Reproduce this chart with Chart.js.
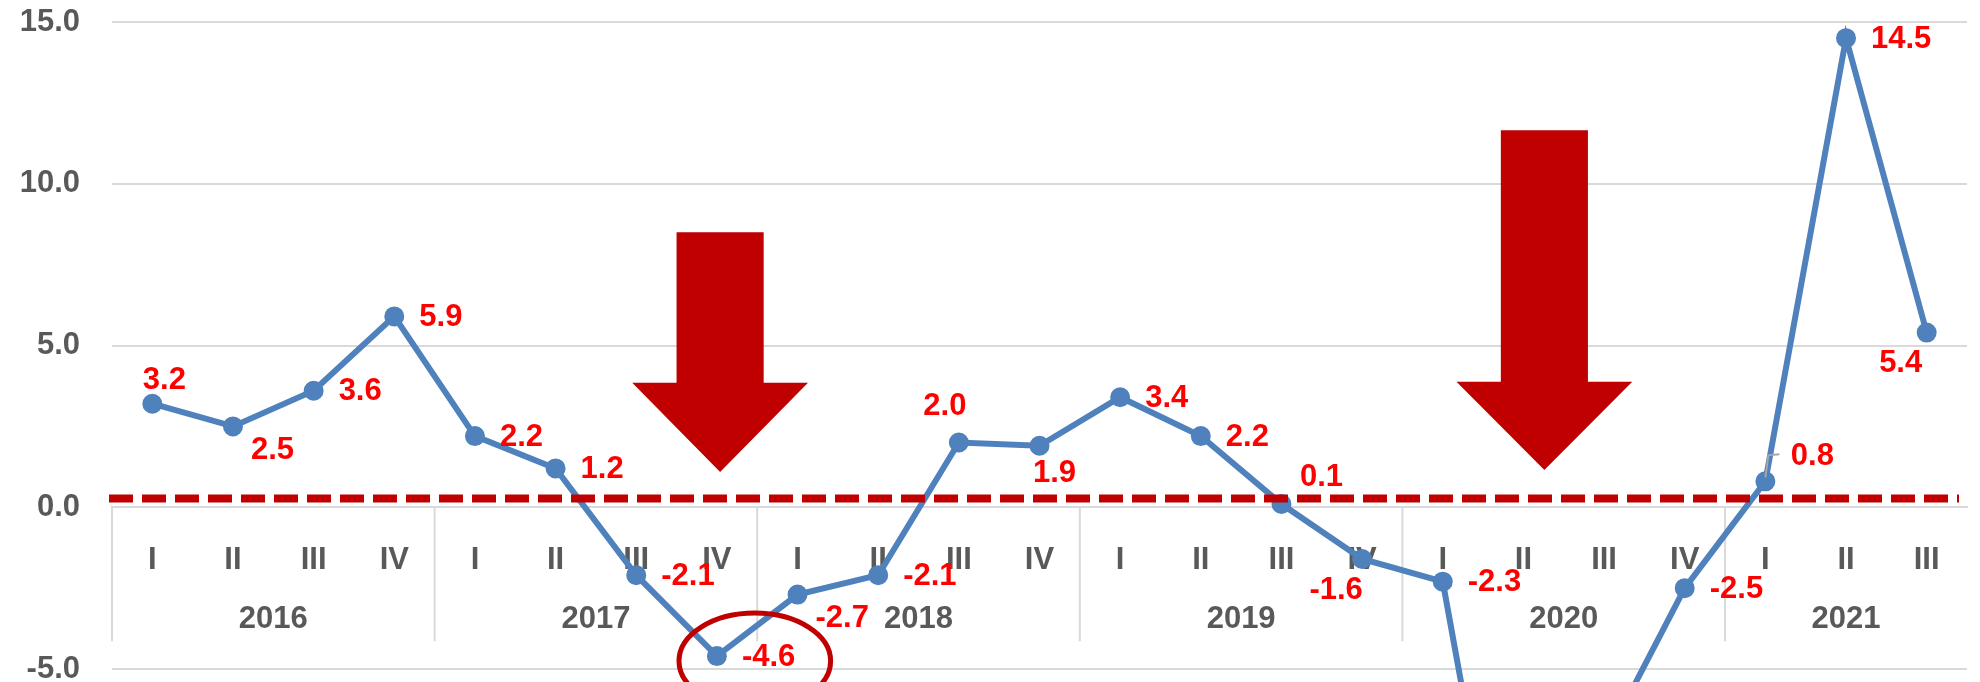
<!DOCTYPE html>
<html>
<head>
<meta charset="utf-8">
<script src="https://cdn.jsdelivr.net/npm/chart.js@4.4.1/dist/chart.umd.min.js"></script>
<style>
  html, body { margin: 0; padding: 0; background: #fff; }
  #wrap { width: 1980px; height: 682px; }
</style>
</head>
<body>
<div id="wrap"><canvas id="chartCanvas" width="1980" height="682"></canvas></div>
<script>
// quarterly growth, 2016 I .. 2021 III
const quarters = ['I', 'II', 'III', 'IV', 'I', 'II', 'III', 'IV', 'I', 'II', 'III', 'IV',
  'I', 'II', 'III', 'IV', 'I', 'II', 'III', 'IV', 'I', 'II', 'III'];
const years = ['2016', '2017', '2018', '2019', '2020', '2021'];
const quartersPerYear = [4, 4, 4, 4, 4, 3];
const growth = [3.2, 2.5, 3.6, 5.9, 2.2, 1.2, -2.1, -4.6, -2.7, -2.1, 2.0, 1.9,
  3.4, 2.2, 0.1, -1.6, -2.3, -16.0, -7.3, -2.5, 0.8, 14.5, 5.4];
const yTicks = [-5, 0, 5, 10, 15];
const refLevel = 0.27;

// where each value label sits relative to its point (null = no label)
const labelSide = ['a', 'br', 'r', 'r', 'r', 'r', 'r', 'r', 'br', 'r', 'al', 'b',
  'r', 'r', 'ar', 'bl', 'r', null, null, 'r', 'arl', 'r', 'bl'];

// annotation shapes, in category index / value units
const arrows = [
  { x: 7.04, top: 8.5, base: 3.85, tip: 1.09 },
  { x: 17.26, top: 11.65, base: 3.88, tip: 1.15 }
];
const ring = { x: 7.47, y: -4.75, rx: 0.94, ry: 1.48 };

const FONT = '"Liberation Sans", Arial, sans-serif';
const GRAY = '#595959';
const DARKRED = '#C00000';

const sideOffsets = {
  r:   { align: 'left', dx: 25, dy: 1 },
  a:   { align: 'center', dx: 12, dy: -23 },
  al:  { align: 'center', dx: -14, dy: -36 },
  b:   { align: 'center', dx: 15, dy: 28 },
  br:  { align: 'left', dx: 18, dy: 24 },
  ar:  { align: 'center', dx: 40, dy: -27 },
  arl: { align: 'center', dx: 47, dy: -25 },
  bl:  { align: 'center', dx: -26, dy: 31 }
};

const decorPlugin = {
  id: 'decor',
  beforeDatasetsDraw(chart) {
    const { ctx, scales: { x, y } } = chart;
    const y0 = y.getPixelForValue(0);
    ctx.save();

    // year separators + year labels under the quarter ticks
    ctx.strokeStyle = '#D9D9D9';
    ctx.lineWidth = 2;
    ctx.font = 'bold 31px ' + FONT;
    ctx.fillStyle = GRAY;
    ctx.textAlign = 'center';
    ctx.textBaseline = 'middle';
    let start = 0;
    years.forEach((yr, i) => {
      const n = quartersPerYear[i];
      const left = x.getPixelForValue(start - 0.5);
      ctx.beginPath();
      ctx.moveTo(left, y0);
      ctx.lineTo(left, y0 + 134);
      ctx.stroke();
      const cx = (x.getPixelForValue(start) + x.getPixelForValue(start + n - 1)) / 2;
      ctx.fillText(yr, cx, y0 + 112);
      start += n;
    });

    // big down arrows
    ctx.fillStyle = DARKRED;
    arrows.forEach(a => {
      const cx = x.getPixelForValue(a.x);
      const sw = x.getPixelForValue(a.x + 0.54) - cx;
      const hw = x.getPixelForValue(a.x + 1.09) - cx;
      const yt = y.getPixelForValue(a.top);
      const yb = y.getPixelForValue(a.base);
      const yp = y.getPixelForValue(a.tip);
      ctx.beginPath();
      ctx.moveTo(cx - sw, yt);
      ctx.lineTo(cx + sw, yt);
      ctx.lineTo(cx + sw, yb);
      ctx.lineTo(cx + hw, yb);
      ctx.lineTo(cx, yp);
      ctx.lineTo(cx - hw, yb);
      ctx.lineTo(cx - sw, yb);
      ctx.closePath();
      ctx.fill();
    });
    ctx.restore();
  },
  afterDatasetsDraw(chart) {
    const { ctx, chartArea, scales: { x, y } } = chart;
    ctx.save();

    // dashed reference line
    const yr = y.getPixelForValue(refLevel);
    ctx.strokeStyle = DARKRED;
    ctx.lineWidth = 8;
    ctx.setLineDash([24, 9]);
    ctx.beginPath();
    ctx.moveTo(chartArea.left - 3, yr);
    ctx.lineTo(chartArea.right - 8, yr);
    ctx.stroke();
    ctx.setLineDash([]);

    // ring round the low point
    const rcx = x.getPixelForValue(ring.x);
    const rcy = y.getPixelForValue(ring.y);
    const rrx = x.getPixelForValue(ring.x + ring.rx) - rcx;
    const rry = rcy - y.getPixelForValue(ring.y + ring.ry);
    ctx.lineWidth = 5;
    ctx.beginPath();
    ctx.ellipse(rcx, rcy, rrx, rry, 0, 0, Math.PI * 2);
    ctx.stroke();

    // value labels
    const pts = chart.getDatasetMeta(0).data;
    ctx.font = 'bold 31px ' + FONT;
    ctx.fillStyle = '#FF0000';
    ctx.textBaseline = 'middle';
    pts.forEach((p, i) => {
      const side = labelSide[i];
      if (!side) return;
      const o = sideOffsets[side];
      if (side === 'arl') {
        ctx.strokeStyle = '#A6A6A6';
        ctx.lineWidth = 2;
        ctx.beginPath();
        ctx.moveTo(p.x, p.y - 4);
        ctx.lineTo(p.x + 3, p.y - 26);
        ctx.lineTo(p.x + 14, p.y - 27);
        ctx.stroke();
      }
      ctx.textAlign = o.align;
      ctx.fillText(growth[i].toFixed(1), p.x + o.dx, p.y + o.dy);
    });
    ctx.restore();
  }
};

const zeroPad = scale => {
  scale.paddingTop = 0;
  scale.paddingBottom = 0;
  scale.paddingLeft = 0;
  scale.paddingRight = 0;
};

const ctx = document.getElementById('chartCanvas').getContext('2d');
new Chart(ctx, {
  type: 'line',
  data: {
    labels: quarters,
    datasets: [{
      data: growth,
      borderColor: '#4F81BD',
      backgroundColor: '#4F81BD',
      borderWidth: 6,
      pointRadius: 7,
      pointHoverRadius: 7,
      tension: 0,
      clip: false
    }]
  },
  options: {
    responsive: false,
    animation: false,
    devicePixelRatio: 1,
    layout: { padding: { top: 22, right: 0, bottom: 0, left: 0 } },
    plugins: {
      legend: { display: false },
      tooltip: { enabled: false }
    },
    scales: {
      x: {
        type: 'category',
        position: { y: 0 },
        offset: true,
        grid: { display: false },
        border: { display: true, color: '#D9D9D9', width: 2 },
        ticks: {
          color: GRAY,
          font: { family: FONT, size: 31, weight: 'bold' },
          padding: 27,
          maxRotation: 0,
          autoSkip: false
        },
        afterFit: scale => {
          zeroPad(scale);
          scale.height = 0;
        }
      },
      y: {
        min: -5,
        max: 15,
        grid: { color: '#D9D9D9', lineWidth: 2, drawTicks: false },
        border: { display: false },
        ticks: {
          color: GRAY,
          padding: 32,
          font: { family: FONT, size: 31, weight: 'bold' },
          callback: v => v.toFixed(1)
        },
        afterBuildTicks: scale => {
          scale.ticks = yTicks.map(v => ({ value: v }));
        },
        afterFit: scale => {
          zeroPad(scale);
          scale.width = 112;
        }
      }
    }
  },
  plugins: [decorPlugin]
});
</script>
</body>
</html>
